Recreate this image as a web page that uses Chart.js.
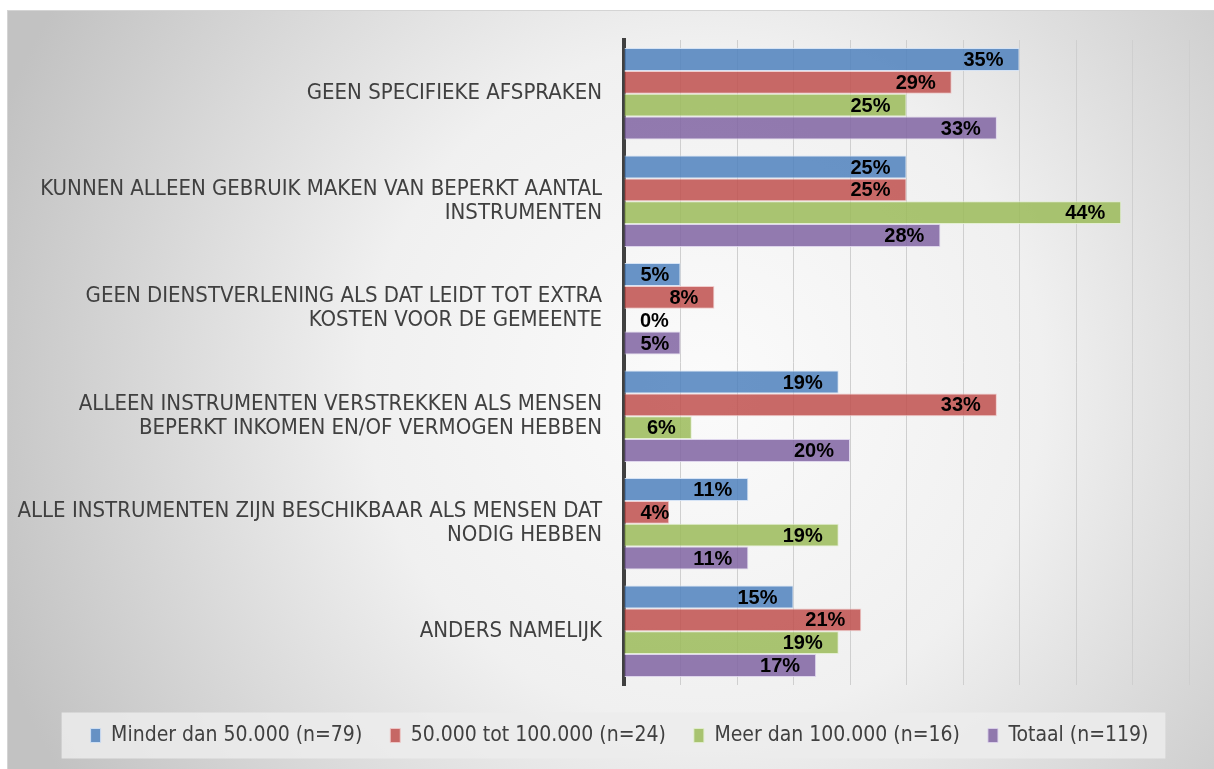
<!DOCTYPE html>
<html lang="nl">
<head>
    <meta charset="UTF-8">
    <title>Afspraken instrumenten</title>
    <script src="https://cdn.jsdelivr.net/npm/chart.js"></script>
    <style>
        html, body { margin: 0; padding: 0; background: #fff; }
        #wrap { width: 1214px; height: 769px; }
    </style>
</head>
<body>
<div id="wrap"><canvas id="myChart" width="1214" height="769"></canvas></div>

<script>
    // categories (multi-line labels as shown on the axis)
    const categories = [
        ["GEEN SPECIFIEKE AFSPRAKEN"],
        ["KUNNEN ALLEEN GEBRUIK MAKEN VAN BEPERKT AANTAL", "INSTRUMENTEN"],
        ["GEEN DIENSTVERLENING ALS DAT LEIDT TOT EXTRA", "KOSTEN VOOR DE GEMEENTE"],
        ["ALLEEN INSTRUMENTEN VERSTREKKEN ALS MENSEN", "BEPERKT INKOMEN EN/OF VERMOGEN HEBBEN"],
        ["ALLE INSTRUMENTEN ZIJN BESCHIKBAAR ALS MENSEN DAT", "NODIG HEBBEN"],
        ["ANDERS NAMELIJK"]
    ];

    const seriesNames = [
        "Minder dan 50.000 (n=79)",
        "50.000 tot 100.000 (n=24)",
        "Meer dan 100.000 (n=16)",
        "Totaal (n=119)"
    ];

    const minder50k = [35, 25, 5, 19, 11, 15];
    const tussen50k100k = [29, 25, 8, 33, 4, 21];
    const meer100k = [25, 44, 0, 6, 19, 19];
    const totaal = [33, 28, 5, 20, 11, 17];

    const fillColors = ['rgba(79,129,189,0.85)', 'rgba(192,80,77,0.85)', 'rgba(155,187,89,0.85)', 'rgba(128,100,162,0.85)'];
    const edgeColors = ['rgba(210,225,245,0.9)', 'rgba(240,200,200,0.9)', 'rgba(225,238,205,0.9)', 'rgba(220,210,235,0.9)'];

    const labelFont = '"Liberation Sans Narrow", "DejaVu Sans Condensed", sans-serif';

    // frame with grey radial background
    const backgroundPlugin = {
        id: 'background',
        afterLayout(chart) {
            // let the long category labels run into the left padding without clipping
            chart.scales.y.left = 0;
        },
        beforeDraw(chart) {
            const c = chart.ctx;
            const w = chart.width, h = chart.height;
            c.save();
            c.fillStyle = '#ffffff';
            c.fillRect(0, 0, w, h);
            const g = c.createRadialGradient(w * 0.58, h * 0.5, 0, w * 0.58, h * 0.5, w * 0.62);
            g.addColorStop(0, '#fbfbfb');
            g.addColorStop(0.45, '#f0f0f0');
            g.addColorStop(1, '#c2c2c2');
            c.fillStyle = g;
            c.fillRect(7, 10, w - 7, h - 10);
            c.strokeStyle = '#d4d4d4';
            c.lineWidth = 1;
            c.strokeRect(7.5, 10.5, w - 7, h - 10);

            // legend box
            const lg = chart.legend;
            if (lg && lg.legendHitBoxes && lg.legendHitBoxes.length) {
                const boxes = lg.legendHitBoxes;
                const left = boxes[0].left - 29;
                const right = boxes[boxes.length - 1].left + boxes[boxes.length - 1].width + 17;
                const mid = boxes[0].top + boxes[0].height / 2;
                c.fillStyle = 'rgba(236,236,236,0.85)';
                c.fillRect(left, mid - 23, right - left, 46);
            }
            c.restore();
        }
    };

    // value labels at the end of each bar
    const valueLabelPlugin = {
        id: 'valueLabels',
        afterDatasetsDraw(chart) {
            const c = chart.ctx;
            c.save();
            c.font = 'bold 20px "Liberation Sans", Arial, sans-serif';
            c.fillStyle = '#000000';
            c.textAlign = 'right';
            c.textBaseline = 'middle';
            chart.data.datasets.forEach((ds, i) => {
                const meta = chart.getDatasetMeta(i);
                meta.data.forEach((bar, j) => {
                    const txt = ds.data[j] + '%';
                    const tw = c.measureText(txt).width;
                    const right = Math.max(bar.x - 16, bar.base + 16 + tw);
                    c.fillText(txt, right, bar.y + 1);
                });
            });
            c.restore();
        }
    };

    const ctx = document.getElementById('myChart').getContext('2d');
    const myChart = new Chart(ctx, {
        type: 'bar',
        data: {
            labels: categories,
            datasets: [minder50k, tussen50k100k, meer100k, totaal].map((values, i) => ({
                label: seriesNames[i],
                data: values,
                backgroundColor: fillColors[i],
                borderColor: edgeColors[i],
                borderWidth: 1,
                categoryPercentage: 0.85,
                barPercentage: 1.0
            }))
        },
        options: {
            indexAxis: 'y',
            responsive: false,
            animation: false,
            layout: { padding: { top: 40, left: 50, right: 25, bottom: 13 } },
            scales: {
                x: {
                    min: 0,
                    max: 50,
                    afterFit(scale) { scale.height = 12; },
                    ticks: { display: false, stepSize: 5 },
                    grid: { color: '#cfcfcf', lineWidth: 1, drawTicks: false },
                    border: { display: false }
                },
                y: {
                    afterFit(scale) { scale.width = 574; },
                    grid: { display: false, drawTicks: false },
                    border: { display: true, color: '#404040', width: 4 },
                    ticks: {
                        padding: 22,
                        color: '#404040',
                        font: { family: labelFont, size: 22, lineHeight: 1.09 }
                    }
                }
            },
            plugins: {
                legend: {
                    position: 'bottom',
                    labels: {
                        color: '#404040',
                        boxWidth: 10,
                        boxHeight: 14,
                        padding: 28,
                        font: { family: labelFont, size: 21 }
                    }
                },
                tooltip: { enabled: false }
            }
        },
        plugins: [backgroundPlugin, valueLabelPlugin]
    });
</script>
</body>
</html>
